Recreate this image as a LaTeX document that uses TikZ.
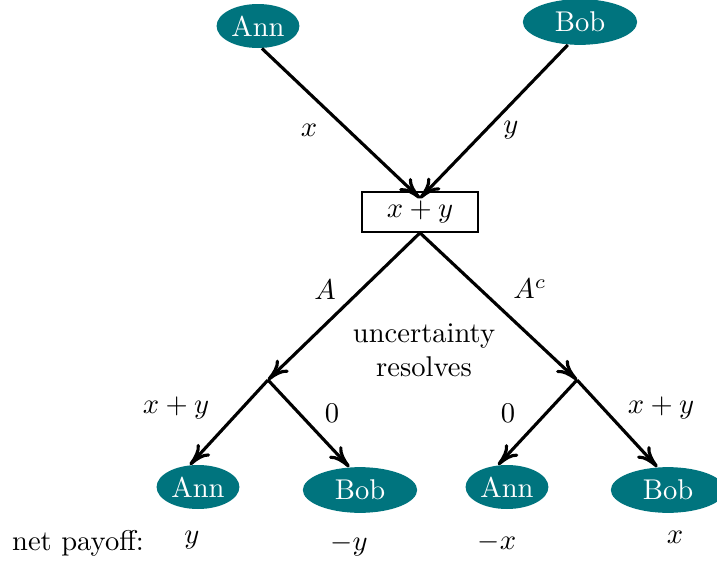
\documentclass[tikz,border=0pt]{standalone}
\usetikzlibrary{arrows.meta,shapes.geometric}
\definecolor{playerteal}{RGB}{0,116,126}
\begin{document}
\begin{tikzpicture}[x=0.35pt,y=-0.35pt,>={To[length=7.5pt,width=6pt]},
  player/.style={ellipse,fill=playerteal,text=white,inner sep=0pt,minimum width=29pt,minimum height=15.4pt},
  widePlayer/.style={player,minimum width=40pt,minimum height=16pt},
  edge/.style={->,line width=1.1pt}]
\useasboundingbox (0,0) rectangle (717,562);
\node[player] (annTop) at (258,26) {Ann};
\node[widePlayer] (bobTop) at (580,22) {Bob};
\node[draw,line width=0.6pt,minimum width=40.6pt,minimum height=14pt,inner sep=0pt] (sum) at (420,212) {$x+y$};
\coordinate (meet) at ([yshift=-2.5pt]sum.north);
\coordinate (forkL) at (268,380);
\coordinate (forkR) at (577,380);
\node[player] (annL) at (198,487) {Ann};
\node[widePlayer] (bobL) at (360,490) {Bob};
\node[player] (annR) at (507,487) {Ann};
\node[widePlayer] (bobR) at (668,490) {Bob};
\draw[edge] (annTop.-80) -- (meet);
\draw[edge] (bobTop.-118) -- (meet);
\draw[edge] (sum.south) -- (forkL);
\draw[edge] (sum.south) -- (forkR);
\draw[edge] (forkL) -- (annL.110);
\draw[edge] (forkL) -- (bobL.115);
\draw[edge] (forkR) -- (annR.112);
\draw[edge] (forkR) -- (bobR.115);
\node (labX) at (309,130) {$x$};
\node (labY) at (511,130) {$y$};
\node (labA) at (325,290) {$A$};
\node (labAc) at (530,289) {$A^c$};
\node[align=center] (resolve) at (424,350) {uncertainty\\resolves};
\node (labLL) at (176,408) {$x+y$};
\node (labLR) at (332,413) {$0$};
\node (labRL) at (508,413) {$0$};
\node (labRR) at (661,408) {$x+y$};
\node (net) at (78,543) {net payoff:};
\node (payAnnL) at (192,540) {$y$};
\node (payBobL) at (349,545) {$-y$};
\node (payAnnR) at (497,542) {$-x$};
\node (payBobR) at (675,537) {$x$};
\end{tikzpicture}
\end{document}
